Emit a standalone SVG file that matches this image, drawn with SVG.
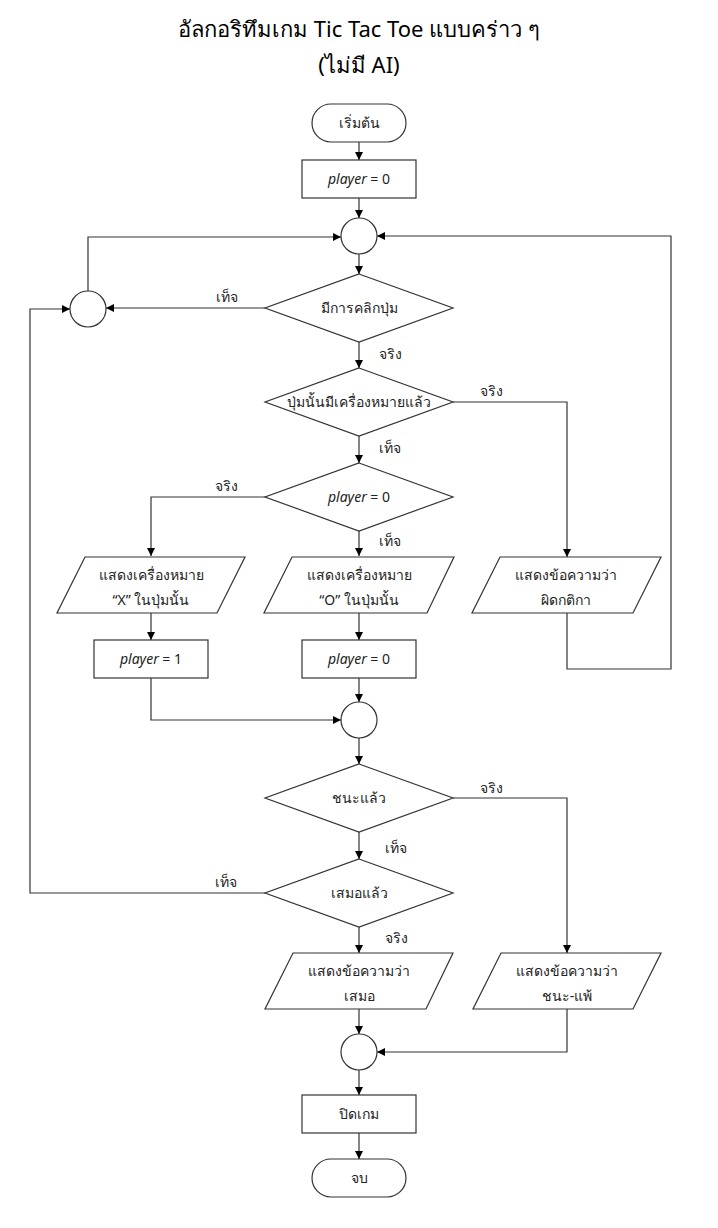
<svg xmlns="http://www.w3.org/2000/svg" width="718" height="1228" viewBox="0 0 718 1228">
<defs>
<marker id="ah" markerWidth="10" markerHeight="10" refX="9" refY="5" orient="auto" markerUnits="userSpaceOnUse">
<path d="M1,1 L9,5 L1,9 Z" fill="#000"/>
</marker>
<style>
.s{fill:#fff;stroke:#333;stroke-width:1.2}
.c{fill:none;stroke:#333;stroke-width:1.2}
.t{font-family:"Noto Sans","DejaVu Sans",sans-serif;font-size:14px;fill:#222;text-anchor:middle}
.l{font-family:"Noto Sans","DejaVu Sans",sans-serif;font-size:14px;fill:#222;text-anchor:middle}
.title{font-family:"Noto Sans","DejaVu Sans",sans-serif;font-size:22px;fill:#000;text-anchor:middle}
.i{font-style:italic}
</style>
</defs>
<rect width="718" height="1228" fill="#fff"/>
<text class="title" x="359" y="37">อัลกอริทึมเกม Tic Tac Toe แบบคร่าว ๆ</text>
<text class="title" x="359" y="73">(ไม่มี AI)</text>

<g id="connectors">
<path class="c" d="M359,142 V160" marker-end="url(#ah)"/>
<path class="c" d="M359,198 V218" marker-end="url(#ah)"/>
<path class="c" d="M359,254 V274" marker-end="url(#ah)"/>
<path class="c" d="M265,308 H106" marker-end="url(#ah)"/>
<path class="c" d="M88,291 V237 H341" marker-end="url(#ah)"/>
<path class="c" d="M359,342 V368" marker-end="url(#ah)"/>
<path class="c" d="M453,402 H567 V557" marker-end="url(#ah)"/>
<path class="c" d="M567,613 V669 H671 V236 H377" marker-end="url(#ah)"/>
<path class="c" d="M359,436 V463" marker-end="url(#ah)"/>
<path class="c" d="M265,497 H151 V556" marker-end="url(#ah)"/>
<path class="c" d="M359,531 V556" marker-end="url(#ah)"/>
<path class="c" d="M151,613 V640" marker-end="url(#ah)"/>
<path class="c" d="M359,613 V640" marker-end="url(#ah)"/>
<path class="c" d="M151,678 V720 H341" marker-end="url(#ah)"/>
<path class="c" d="M359,678 V702" marker-end="url(#ah)"/>
<path class="c" d="M359,738 V764" marker-end="url(#ah)"/>
<path class="c" d="M453,798 H567 V953" marker-end="url(#ah)"/>
<path class="c" d="M359,832 V859" marker-end="url(#ah)"/>
<path class="c" d="M265,893 H30 V309 H70" marker-end="url(#ah)"/>
<path class="c" d="M359,927 V953" marker-end="url(#ah)"/>
<path class="c" d="M359,1009 V1034" marker-end="url(#ah)"/>
<path class="c" d="M567,1009 V1052 H377" marker-end="url(#ah)"/>
<path class="c" d="M359,1070 V1095" marker-end="url(#ah)"/>
<path class="c" d="M359,1133 V1159" marker-end="url(#ah)"/>
<text class="l" x="227" y="302">เท็จ</text>
<text class="l" x="390" y="359">จริง</text>
<text class="l" x="491" y="396">จริง</text>
<text class="l" x="390" y="453">เท็จ</text>
<text class="l" x="226" y="491">จริง</text>
<text class="l" x="390" y="546">เท็จ</text>
<text class="l" x="491" y="793">จริง</text>
<text class="l" x="396" y="853">เท็จ</text>
<text class="l" x="226" y="887">เท็จ</text>
<text class="l" x="396" y="943">จริง</text>
</g>

<g id="start"><rect class="s" x="312" y="104" width="94" height="38" rx="19"/><text class="t" x="359" y="128">เริ่มต้น</text></g>
<g id="init"><rect class="s" x="302" y="160" width="114" height="38"/><text class="t" x="359" y="184"><tspan class="i">player</tspan> = 0</text></g>
<g id="j1"><circle class="s" cx="359" cy="236" r="18"/></g>
<g id="jleft"><circle class="s" cx="88" cy="309" r="18"/></g>
<g id="d1"><polygon class="s" points="359,274 453,308 359,342 265,308"/><text class="t" x="359" y="313">มีการคลิกปุ่ม</text></g>
<g id="d2"><polygon class="s" points="359,368 453,402 359,436 265,402"/><text class="t" x="359" y="407">ปุ่มนั้นมีเครื่องหมายแล้ว</text></g>
<g id="d3"><polygon class="s" points="359,463 453,497 359,531 265,497"/><text class="t" x="359" y="502"><tspan class="i">player</tspan> = 0</text></g>
<g id="px"><polygon class="s" points="85,557 245,557 217,613 57,613"/><text class="t" x="151" y="580">แสดงเครื่องหมาย</text><text class="t" x="151" y="605">“X” ในปุ่มนั้น</text></g>
<g id="po"><polygon class="s" points="292,557 454,557 427,613 264,613"/><text class="t" x="359" y="580">แสดงเครื่องหมาย</text><text class="t" x="359" y="605">“O” ในปุ่มนั้น</text></g>
<g id="perr"><polygon class="s" points="500,557 661,557 633,613 472,613"/><text class="t" x="566" y="580">แสดงข้อความว่า</text><text class="t" x="566" y="605">ผิดกติกา</text></g>
<g id="p1"><rect class="s" x="94" y="640" width="114" height="38"/><text class="t" x="151" y="664"><tspan class="i">player</tspan> = 1</text></g>
<g id="p0"><rect class="s" x="302" y="640" width="114" height="38"/><text class="t" x="359" y="664"><tspan class="i">player</tspan> = 0</text></g>
<g id="j2"><circle class="s" cx="359" cy="720" r="18"/></g>
<g id="d4"><polygon class="s" points="359,764 453,798 359,832 265,798"/><text class="t" x="359" y="803">ชนะแล้ว</text></g>
<g id="d5"><polygon class="s" points="359,859 453,893 359,927 265,893"/><text class="t" x="359" y="898">เสมอแล้ว</text></g>
<g id="pdraw"><polygon class="s" points="293,953 453,953 426,1009 265,1009"/><text class="t" x="359" y="976">แสดงข้อความว่า</text><text class="t" x="359" y="1001">เสมอ</text></g>
<g id="pwin"><polygon class="s" points="501,953 661,953 633,1009 473,1009"/><text class="t" x="567" y="976">แสดงข้อความว่า</text><text class="t" x="567" y="1001">ชนะ-แพ้</text></g>
<g id="j3"><circle class="s" cx="359" cy="1052" r="18"/></g>
<g id="close"><rect class="s" x="302" y="1095" width="114" height="38"/><text class="t" x="359" y="1119">ปิดเกม</text></g>
<g id="end"><rect class="s" x="312" y="1159" width="94" height="38" rx="19"/><text class="t" x="359" y="1183">จบ</text></g>
</svg>
